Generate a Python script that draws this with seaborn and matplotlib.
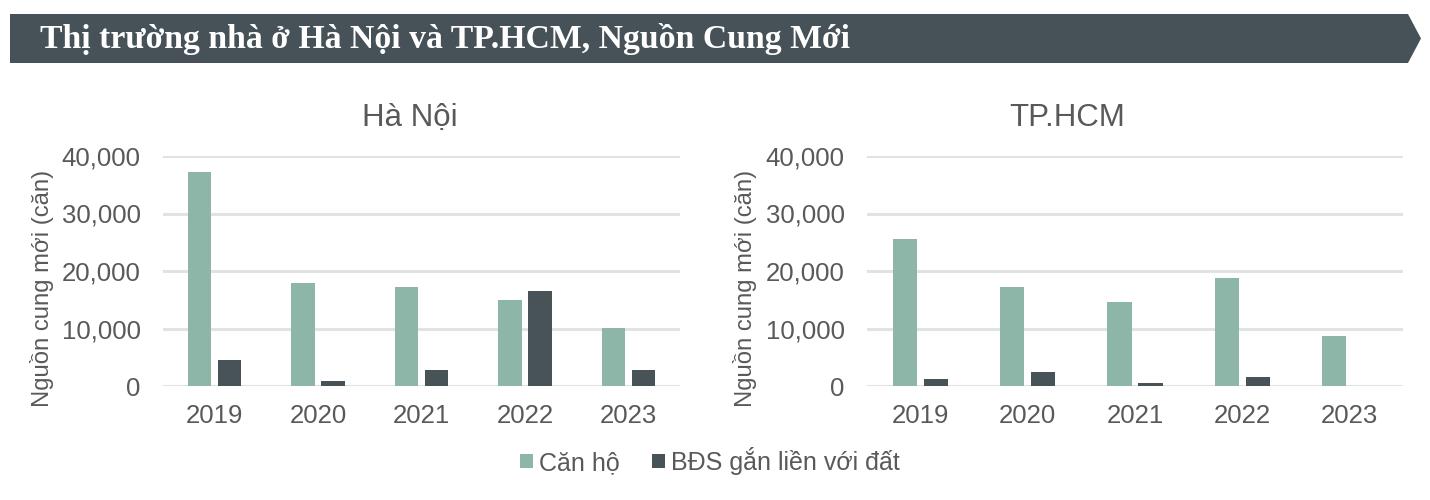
import matplotlib
matplotlib.use("Agg")
import matplotlib.pyplot as plt
import matplotlib.ticker as mticker
from matplotlib.patches import Polygon
import seaborn as sns
import pandas as pd

# ---- data ----
years = ["2019", "2020", "2021", "2022", "2023"]
series_names = ["Căn hộ", "BĐS gắn liền với đất"]
hanoi_apartment = [37200, 18000, 17200, 15000, 10100]
hanoi_landed = [4500, 900, 2800, 16500, 2700]
hcm_apartment = [25500, 17200, 14600, 18700, 8700]
hcm_landed = [1200, 2400, 600, 1600, 0]
yticks = [0, 10000, 20000, 30000, 40000]

title_text = "Thị trường nhà ở Hà Nội và TP.HCM, Nguồn Cung Mới"
panel_titles = ["Hà Nội", "TP.HCM"]
ylabel = "Nguồn cung mới (căn)"

colors = {"Căn hộ": "#8db6a8", "BĐS gắn liền với đất": "#475356"}
text_gray = "#595959"
banner_color = "#465257"


def long_df(apt, landed):
    rows = []
    for y, a, l in zip(years, apt, landed):
        rows.append({"year": y, "series": series_names[0], "value": a})
        rows.append({"year": y, "series": series_names[1], "value": l})
    return pd.DataFrame(rows)


sns.set_theme(style="white")
plt.rcParams["font.family"] = ["Liberation Sans", "DejaVu Sans"]

W, H = 1430, 500
fig = plt.figure(figsize=(W / 100, H / 100), dpi=100)


def px(x, y):
    return (x / W, 1 - y / H)


# banner
pts = [px(10, 14), px(1408, 14), px(1421, 38.5), px(1408, 63), px(10, 63)]
fig.patches.append(Polygon(pts, closed=True, transform=fig.transFigure,
                           facecolor=banner_color, edgecolor="none"))
fig.text(40 / W, 1 - 39 / H, title_text, color="white",
         fontsize=24.3, fontweight="bold", va="center", ha="left",
         family=["Liberation Serif", "DejaVu Serif"])

axes_px = [(163, 680), (867, 1403)]
title_centers = [410, 1067]
ylabel_x = [54, 757]
datasets = [(hanoi_apartment, hanoi_landed), (hcm_apartment, hcm_landed)]

for (x0, x1), tc, ylx, (apt, landed), ptitle in zip(axes_px, title_centers, ylabel_x,
                                                     datasets, panel_titles):
    ax = fig.add_axes([x0 / W, 1 - 386 / H, (x1 - x0) / W, 230 / H])
    df = long_df(apt, landed)
    sns.barplot(data=df, x="year", y="value", hue="series", order=years,
                hue_order=series_names, palette=colors, width=0.58, gap=0.22,
                ax=ax, legend=True, linewidth=0, saturation=1)
    ax.set_ylim(0, 40000)
    ax.set_xlim(-0.5, len(years) - 0.5)
    ax.set_yticks(yticks)
    ax.yaxis.set_major_formatter(mticker.FuncFormatter(lambda v, p: f"{int(v):,}"))
    ax.grid(axis="y", color="#e0e3e3", linewidth=2.2)
    ax.set_axisbelow(True)
    for s in ax.spines.values():
        s.set_visible(False)
    ax.tick_params(axis="both", length=0, labelsize=18.5, colors=text_gray)
    ax.tick_params(axis="y", pad=16)
    ax.tick_params(axis="x", pad=13)
    ax.set_xlabel("")
    ax.set_ylabel(ylabel, fontsize=17.2, color=text_gray)
    ax.yaxis.set_label_coords(ylx / W, 1 - 288 / H, transform=fig.transFigure)
    handles, labels = ax.get_legend_handles_labels()
    ax.get_legend().remove()
    fig.text(tc / W, 1 - 118 / H, ptitle, fontsize=22.5, color=text_gray,
             ha="center", va="center")

leg = fig.legend(handles, labels, loc="center", bbox_to_anchor=(710 / W, 1 - 461 / H),
                 ncol=2, frameon=False, fontsize=18, handlelength=0.5,
                 handleheight=0.5, handletextpad=0.25, columnspacing=1.3)
for t in leg.get_texts():
    t.set_color(text_gray)

fig.savefig("out.png", dpi=100, facecolor="white")
